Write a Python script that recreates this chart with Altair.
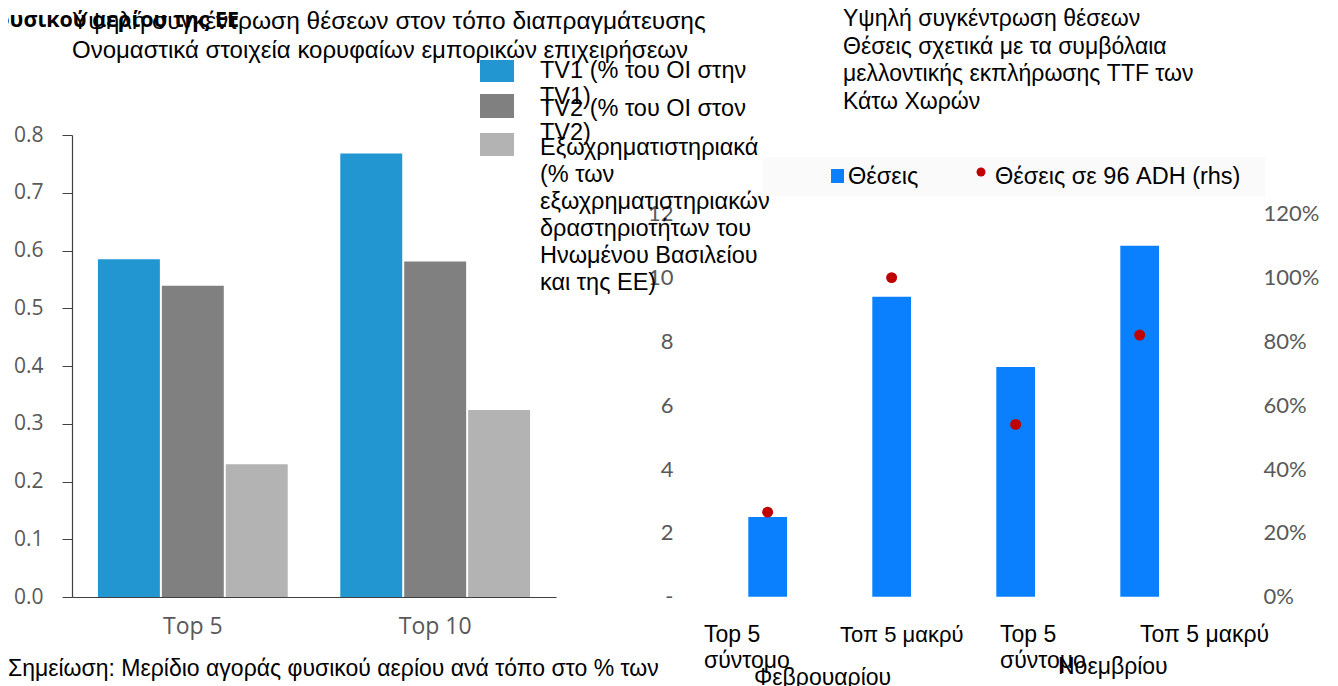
import altair as alt
import pandas as pd

# ---------------- data ----------------
groups = ["Top 5", "Top 10"]
series = ["TV1", "TV2", "OTC"]
tv1 = [0.585, 0.768]
tv2 = [0.539, 0.581]
otc = [0.230, 0.324]
series_colors = ["#2196d0", "#808080", "#b3b3b3"]
left_ticks = [0.0, 0.1, 0.2, 0.3, 0.4, 0.5, 0.6, 0.7, 0.8]

cats = ["Top 5 σύντομο Φεβρουαρίου", "Τοπ 5 μακρύ Φεβρουαρίου",
        "Top 5 σύντομο Νοεμβρίου", "Τοπ 5 μακρύ Νοεμβρίου"]
positions = [2.5, 9.4, 7.2, 11.0]
adh_share = [0.265, 1.0, 0.54, 0.82]
right_left_ticks = [0, 2, 4, 6, 8, 10, 12]
right_right_ticks = [0.0, 0.2, 0.4, 0.6, 0.8, 1.0, 1.2]

W, H = 1322, 678

rows = []
for g, a, b, c in zip(groups, tv1, tv2, otc):
    rows += [{"group": g, "series": "TV1", "value": a},
             {"group": g, "series": "TV2", "value": b},
             {"group": g, "series": "OTC", "value": c}]
df_left = pd.DataFrame(rows)
df_right = pd.DataFrame({"cat": cats, "pos": positions, "adh": adh_share})
dummy = pd.DataFrame({"d": [0]})

GREEK = "Liberation Sans"

# ---------------- left panel ----------------
left_bars = alt.Chart(df_left).mark_bar().encode(
    x=alt.X("group:N", sort=groups,
            scale=alt.Scale(range=[64, 548], paddingInner=0.217, paddingOuter=0.107),
            axis=alt.Axis(title=None, orient="bottom", offset=589 - H, labelAngle=0,
                          ticks=False, tickSize=0, domainColor="#404040", domainWidth=1.2,
                          labelFont="Open Sans", labelFontSize=23, labelColor="#595959",
                          labelPadding=18, grid=False)),
    xOffset=alt.XOffset("series:N", sort=series,
                        scale=alt.Scale(paddingInner=0.031, paddingOuter=0)),
    y=alt.Y("value:Q",
            scale=alt.Scale(domain=[0, 0.8], range=[589, 127], nice=False, zero=True),
            axis=alt.Axis(title=None, orient="left", offset=-64, values=left_ticks,
                          format=".1f", tickSize=10, tickColor="#404040",
                          domainColor="#404040", domainWidth=1.2,
                          labelFont="Open Sans", labelFontSize=21, labelColor="#595959",
                          labelPadding=19, grid=False)),
    color=alt.Color("series:N", scale=alt.Scale(domain=series, range=series_colors),
                    legend=None),
)

# ---------------- right panel ----------------
right_bars = alt.Chart(df_right).mark_bar(color="#0a80ff").encode(
    x=alt.X("cat:N", sort=cats,
            scale=alt.Scale(range=[678.3, 1213], paddingInner=0.688, paddingOuter=0.5),
            axis=None),
    y=alt.Y("pos:Q",
            scale=alt.Scale(domain=[0, 12], range=[588.7, 205.8], nice=False),
            axis=alt.Axis(title=None, orient="left", offset=-669, values=right_left_ticks,
                          labelExpr="datum.value == 0 ? '-' : datum.label",
                          domain=False, ticks=False, tickSize=0, labelPadding=4,
                          labelFont="Lato", labelFontSize=22, labelColor="#595959",
                          grid=False)),
)
right_dots = alt.Chart(df_right).mark_circle(color="#c00000", size=120, opacity=1).encode(
    x=alt.X("cat:N", sort=cats, axis=None),
    y=alt.Y("adh:Q",
            scale=alt.Scale(domain=[0, 1.2], range=[588.7, 205.8], nice=False),
            axis=alt.Axis(title=None, orient="right", offset=1251 - W,
                          values=right_right_ticks, format=".0%",
                          domain=False, ticks=False, tickSize=0, labelPadding=4,
                          labelFont="Lato", labelFontSize=22, labelColor="#595959",
                          grid=False)),
)
right = alt.layer(right_bars, right_dots).resolve_scale(y="independent")


# ---------------- annotations ----------------
def txt(lines, x, y, size=23, lh=27, font=GREEK, weight="normal", align="left",
        color="#000000"):
    return alt.Chart(dummy).mark_text(
        text=lines, align=align, baseline="alphabetic", font=font, fontSize=size,
        fontWeight=weight, color=color, lineHeight=lh,
    ).encode(x=alt.value(x), y=alt.value(y))


def box(x, x2, y, y2, color):
    return alt.Chart(dummy).mark_rect(color=color).encode(
        x=alt.value(x), x2=alt.value(x2), y=alt.value(y), y2=alt.value(y2))


layers = [
    box(755, 1257, 149, 188, "#fafafa"),
    left_bars,
    right,
    # left titles
    txt(["Υψηλή συγκέντρωση θέσεων στον τόπο διαπραγμάτευσης"], 64, 21, size=24.5),
    txt(["Ονομαστικά στοιχεία κορυφαίων εμπορικών επιχειρήσεων"], 64, 50, size=24),
    txt(["φυσικού αερίου της ΕΕ"], 231, 19, size=21.5, font="Open Sans", weight="bold",
        align="right"),
    # left legend
    box(472, 506, 52, 74, series_colors[0]),
    box(472, 506, 86, 110, series_colors[1]),
    box(472, 506, 125, 148, series_colors[2]),
    txt(["TV1 (% του OI στην", "TV1)"], 532, 70, size=23.5, lh=26),
    txt(["TV2 (% του OI στον", "TV2)"], 532, 108, size=23.5, lh=24),
    txt(["Εξωχρηματιστηριακά", "(% των", "εξωχρηματιστηριακών",
         "δραστηριοτήτων του", "Ηνωμένου Βασιλείου", "και της ΕΕ)"], 532, 147,
        size=23.5, lh=27),
    # left footnote
    txt(["Σημείωση: Μερίδιο αγοράς φυσικού αερίου ανά τόπο στο % των"], 0, 668),
    # right title
    txt(["Υψηλή συγκέντρωση θέσεων", "Θέσεις σχετικά με τα συμβόλαια",
         "μελλοντικής εκπλήρωσης TTF των", "Κάτω Χωρών"], 835, 18, lh=27.7),
    # right legend
    box(823, 836, 161, 175, "#0a80ff"),
    txt(["Θέσεις"], 840, 176, size=23.5),
    alt.Chart(dummy).mark_circle(color="#c00000", size=80, opacity=1).encode(
        x=alt.value(973), y=alt.value(164)),
    txt(["Θέσεις σε 96 ADH (rhs)"], 987, 176, size=23.5),
    # right category labels
    txt(["Top 5", "σύντομο"], 696, 634, lh=26),
    txt(["Τοπ 5 μακρύ"], 832, 634, size=22),
    txt(["Top 5", "σύντομο"], 992, 634, lh=26),
    txt(["Τοπ 5 μακρύ"], 1132, 634),
    txt(["Φεβρουαρίου"], 746, 677),
    txt(["Νοεμβρίου"], 1050, 666),
]

chart = alt.layer(*layers).resolve_scale(
    x="independent", y="independent", color="independent", xOffset="independent"
).properties(
    width=W, height=H, autosize=alt.AutoSizeParams(type="none"), padding=0
).configure_view(stroke=None)

chart.save("out.html", embed_options={"renderer": "svg", "actions": False})
